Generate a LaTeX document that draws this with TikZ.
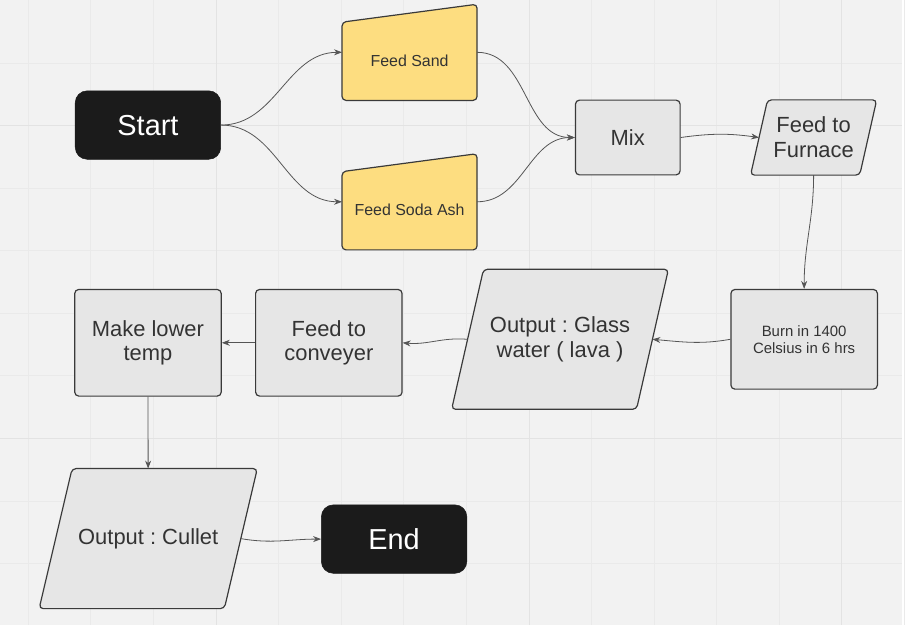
\documentclass[tikz,border=0pt]{standalone}
\usepackage{fontspec}
\setmainfont{Liberation Sans}
\frenchspacing
\usetikzlibrary{arrows.meta, calc}

\definecolor{canvas}{HTML}{F2F2F2}
\definecolor{gridminor}{HTML}{EAEAEA}
\definecolor{gridmajor}{HTML}{E3E3E3}
\definecolor{boxgray}{HTML}{E6E6E6}
\definecolor{boxline}{HTML}{3A3A3A}
\definecolor{feedyellow}{HTML}{FDDD80}
\definecolor{termblack}{HTML}{1B1B1B}
\definecolor{inkgray}{HTML}{333333}
\definecolor{wiregray}{HTML}{555555}

\pgfdeclarelayer{backdrop}
\pgfdeclarelayer{shapes}
\pgfsetlayers{backdrop,shapes,main}

\begin{document}
\begin{tikzpicture}[x=0.75pt, y=0.75pt, >={Stealth[length=6pt, width=4.5pt]},
  terminal/.style={draw=termblack, fill=termblack, rounded corners=9pt, minimum width=109.5pt, minimum height=51.5pt, text=white, font=\fontsize{21.75}{26}\selectfont},
  process/.style={draw=boxline, fill=boxgray, line width=0.9pt, rounded corners=3pt, text=inkgray, align=center, inner sep=0pt, font=\fontsize{16.5}{18.75}\selectfont},
  io/.style={text=inkgray, align=center, inner sep=0pt, font=\fontsize{16.5}{18.75}\selectfont},
  ioshape/.style={draw=boxline, fill=boxgray, line width=0.9pt, rounded corners=3pt},
  feed/.style={minimum width=101.25pt, minimum height=72pt, inner sep=0pt, text=inkgray, text height=20.75pt, text depth=0pt, font=\fontsize{12}{14}\selectfont},
  feedshape/.style={draw=boxline, fill=feedyellow, line width=0.9pt, rounded corners=3pt},
  link/.style={->, draw=wiregray, line width=0.6pt}]

  % Fond quadrille
  \begin{pgfonlayer}{backdrop}
    \fill[canvas] (0,0) rectangle (905,-627);
    \foreach \k in {0,...,14}
      \draw[gridminor, line width=0.75pt] ({28+62.8*\k},0) -- ({28+62.8*\k},-627);
    \foreach \k in {1,...,9}
      \draw[gridminor, line width=0.75pt] (0,{-62.8*\k}) -- (905,{-62.8*\k});
    \foreach \k in {3,8,13}
      \draw[gridmajor, line width=0.75pt] ({28+62.8*\k},0) -- ({28+62.8*\k},-627);
    \foreach \k in {2,7}
      \draw[gridmajor, line width=0.75pt] (0,{-62.8*\k}) -- (905,{-62.8*\k});
  \end{pgfonlayer}
  \useasboundingbox (0,0) rectangle (905,-627);

  % Debut et matieres premieres
  \node[terminal] (start) at (148,-125) {Start};
  \node[feed] (sand) at (410.5,-52) {Feed Sand};
  \node[feed] (soda) at (410.5,-202) {Feed Soda Ash};

  % Fusion
  \node[process, minimum width=78.75pt, minimum height=56.25pt] (mix) at (629.5,-137.5) {Mix};
  \node[io, minimum width=81.75pt, minimum height=56.25pt] (furnace) at (816,-137.5) {Feed to\\Furnace};
  \node[process, minimum width=110.25pt, minimum height=75pt, font=\fontsize{11.25}{12.75}\selectfont] (burn) at (806.5,-340) {Burn in 1400\\Celsius in 6 hrs};
  \node[io, minimum width=138.75pt, minimum height=105pt] (glass) at (561.5,-340) {Output : Glass\\water ( lava )};

  % Refroidissement
  \node[process, minimum width=110.25pt, minimum height=80.25pt] (conveyer) at (329.5,-343.5) {Feed to\\conveyer};
  \node[process, minimum width=110.25pt, minimum height=80.25pt] (lower) at (148,-343.5) {Make lower\\temp};
  \node[io, minimum width=139pt, minimum height=105pt] (cullet) at (148.25,-540) {Output : Cullet};
  \node[terminal] (end) at (395,-540.5) {End};

  % Formes : entrees manuelles et parallelogrammes
  \begin{pgfonlayer}{shapes}
    \foreach \n in {sand, soda}
      \filldraw[feedshape] ([yshift=-13.5pt]\n.north west) -- (\n.north east) -- (\n.south east) -- (\n.south west) -- cycle;
    \foreach \n/\s in {furnace/6.4pt, glass/12pt, cullet/12.4pt}
      \filldraw[ioshape] ([xshift=\s]\n.north west) -- ([xshift=\s]\n.north east) -- ([xshift=-\s]\n.south east) -- ([xshift=-\s]\n.south west) -- cycle;
  \end{pgfonlayer}

  % Liens
  \draw[link] (start.east) to[out=0, in=180] (sand.west);
  \draw[link] (start.east) to[out=0, in=180] (soda.west);
  \draw[link] (sand.east) to[out=0, in=180] (mix.west);
  \draw[link] (soda.east) to[out=0, in=180] (mix.west);
  \draw[link] (mix.east) to[out=8, in=172] (furnace.west);
  \draw[link] (furnace.south) to[out=-90, in=90] (burn.north);
  \draw[link] (burn.west) to[out=190, in=-5] (glass.east);
  \draw[link] (glass.west) to[out=175, in=-5] (conveyer.east);
  \draw[link] (conveyer) -- (lower);
  \draw[link] (lower) -- (cullet);
  \draw[link] (cullet.east) to[out=-10, in=180] (end.west);

\end{tikzpicture}
\end{document}
